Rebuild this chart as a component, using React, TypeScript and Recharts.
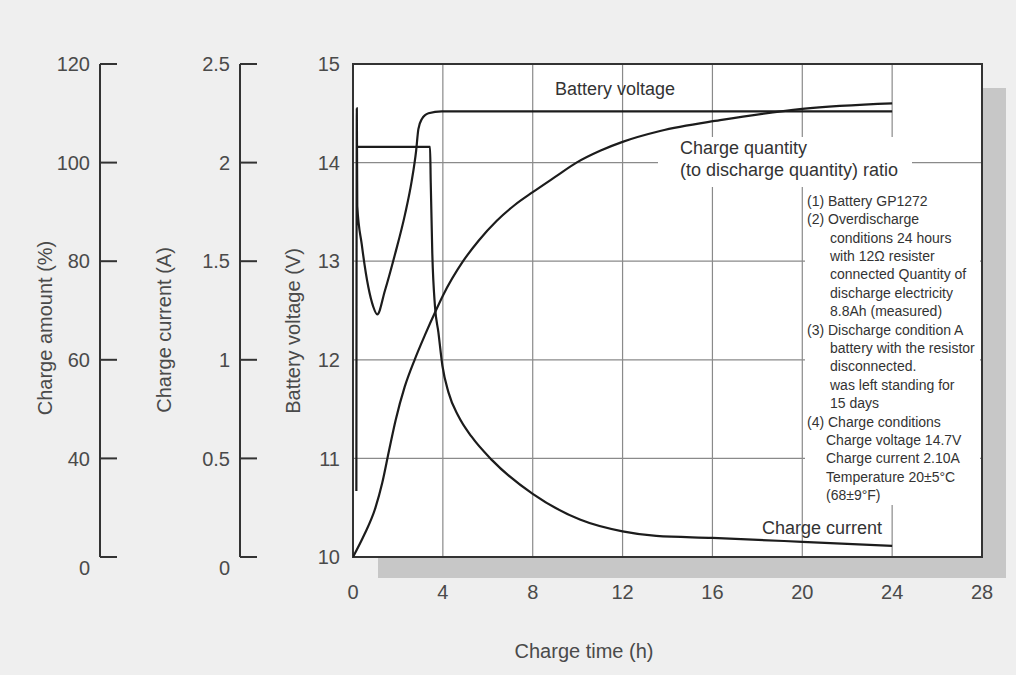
import { LineChart, Line, XAxis, YAxis, CartesianGrid, ReferenceArea } from 'recharts';

const FONT = "'Liberation Sans', Arial, sans-serif";
const INK = '#1c1c1c';
const TEXT = '#4a4a4a';

const hourTicks = [0, 4, 8, 12, 16, 20, 24, 28];
const voltTicks = [10, 11, 12, 13, 14, 15];
const currentTicks = [0, 0.5, 1, 1.5, 2, 2.5];
// the source's % scale is broken at the bottom: its "0" sits where 20 would be
const amountTicks = [20, 40, 60, 80, 100, 120];

// [hour, volts]
const voltagePts: [number, number][] = [
    [0.15, 10.67], [0.17, 14.55], [0.19, 13.56], [0.39, 13.17], [0.68, 12.74],
    [0.9, 12.54], [1.08, 12.46], [1.42, 12.7], [1.87, 13.07], [2.32, 13.48],
    [2.61, 13.81], [2.81, 14.12], [2.91, 14.34], [3.06, 14.44], [3.36, 14.5],
    [3.95, 14.52], [24, 14.52],
];

// [hour, amps]
const currentPts: [number, number][] = [
    [0.15, 2.08], [3.43, 2.08], [3.46, 1.9], [3.53, 1.54], [3.65, 1.27],
    [3.8, 1.14], [3.98, 0.97], [4.25, 0.835], [4.69, 0.715], [5.28, 0.61],
    [6.2, 0.49], [8, 0.32], [10.1, 0.19], [12, 0.13], [13.5, 0.107],
    [16, 0.097], [20, 0.077], [24, 0.056],
];

// [hour, % on the drawn scale]
const quantityPts: [number, number][] = [
    [0, 20], [0.5, 24.5], [1, 30], [1.3, 35], [1.6, 41.5], [1.9, 47.8],
    [2.3, 54.5], [2.76, 60.2], [3.2, 65], [3.7, 70.1], [4, 73], [4.9, 80],
    [5.6, 84.2], [6.4, 88.2], [7.2, 91.4], [8, 94], [9, 97.1], [9.95, 100],
    [11, 102.4], [12, 104.2], [13.67, 106.4], [16.34, 108.6], [20, 110.9], [24, 112],
];

const notes: [string, number][] = [
    ['(1) Battery GP1272', 0],
    ['(2) Overdischarge', 0],
    ['conditions 24 hours', 23],
    ['with 12Ω  resister', 23],
    ['connected Quantity of', 23],
    ['discharge electricity', 23],
    ['8.8Ah (measured)', 23],
    ['(3) Discharge condition A', 0],
    ['battery with the resistor', 23],
    ['disconnected.', 23],
    ['was left standing for', 23],
    ['15 days', 23],
    ['(4) Charge conditions', 0],
    ['Charge voltage 14.7V', 19],
    ['Charge current 2.10A', 19],
    ['Temperature 20±5°C', 19],
    ['(68±9°F)', 19],
];

const toRows = (pts: [number, number][]) => pts.map(([t, y]) => ({ t, y }));

function SideTick(props: any) {
    const { x, y, payload, fmt } = props;
    const label = fmt(payload.value);
    return (
        <g>
            <line x1={x} x2={x + 17} y1={y} y2={y} stroke="#333" strokeWidth={2} />
            <text
                x={x - 10}
                y={y + (label === '0' ? 11 : 0)}
                dy="0.36em"
                textAnchor="end"
                fontSize={20}
                fontFamily={FONT}
                fill={TEXT}
            >
                {label}
            </text>
        </g>
    );
}

function AxisTitle({ x, y, children }: { x: number; y: number; children: string }) {
    return (
        <div
            style={{
                position: 'absolute', left: x, top: y, transform: 'translate(-50%, -50%) rotate(-90deg)',
                whiteSpace: 'nowrap', fontSize: 20, color: TEXT, fontFamily: FONT,
            }}
        >
            {children}
        </div>
    );
}

// axis ids sort so that y1 sits next to the plot, y3 furthest out
const VOLT = 'y1';
const CUR = 'y2';
const AMT = 'y3';

export default function App() {
    const axisLine = { stroke: '#333', strokeWidth: 2 };
    return (
        <div style={{ position: 'absolute', left: 0, top: 0, width: 1016, height: 675, background: '#efefef', overflow: 'hidden', fontFamily: FONT }}>
            {/* drop shadow behind the plot frame */}
            <div style={{ position: 'absolute', left: 378, top: 88, width: 628, height: 490, background: '#c7c7c7' }} />

            <div style={{ position: 'absolute', left: 0, top: 0 }}>
                <LineChart width={1016} height={675} margin={{ top: 64, right: 34, bottom: 58, left: 0 }}>
                    <CartesianGrid yAxisId={VOLT} stroke="#8a8a8a" strokeWidth={1.2} fill="#fff" fillOpacity={1} />
                    <XAxis
                        dataKey="t"
                        type="number"
                        domain={[0, 28]}
                        ticks={hourTicks}
                        interval={0}
                        allowDataOverflow
                        height={60}
                        axisLine={false}
                        tickLine={false}
                        tickSize={0}
                        tickMargin={28}
                        tick={{ fontSize: 20, fill: TEXT, fontFamily: FONT }}
                    />
                    <YAxis
                        yAxisId={VOLT}
                        type="number"
                        domain={[10, 15]}
                        ticks={voltTicks}
                        interval={0}
                        width={113}
                        axisLine={false}
                        tickLine={false}
                        tickSize={0}
                        tickMargin={13}
                        tick={{ fontSize: 20, fill: TEXT, fontFamily: FONT }}
                    />
                    <YAxis
                        yAxisId={CUR}
                        type="number"
                        domain={[0, 2.5]}
                        ticks={currentTicks}
                        interval={0}
                        width={140}
                        axisLine={axisLine}
                        tickLine={false}
                        tickSize={0}
                        tickMargin={0}
                        tick={(p: any) => <SideTick {...p} fmt={(v: number) => String(v)} />}
                    />
                    <YAxis
                        yAxisId={AMT}
                        type="number"
                        domain={[20, 120]}
                        ticks={amountTicks}
                        interval={0}
                        width={100}
                        axisLine={axisLine}
                        tickLine={false}
                        tickSize={0}
                        tickMargin={0}
                        tick={(p: any) => <SideTick {...p} fmt={(v: number) => (v === 20 ? '0' : String(v))} />}
                    />
                    <ReferenceArea yAxisId={VOLT} x1={0} x2={28} y1={10} y2={15} fill="none" stroke="#333" strokeWidth={2} ifOverflow="visible" />
                    <Line yAxisId={VOLT} data={toRows(voltagePts)} dataKey="y" type="monotone" stroke={INK} strokeWidth={2.2} dot={false} activeDot={false} isAnimationActive={false} />
                    <Line yAxisId={CUR} data={toRows(currentPts)} dataKey="y" type="monotone" stroke={INK} strokeWidth={2.2} dot={false} activeDot={false} isAnimationActive={false} />
                    <Line yAxisId={AMT} data={toRows(quantityPts)} dataKey="y" type="monotone" stroke={INK} strokeWidth={2.2} dot={false} activeDot={false} isAnimationActive={false} />
                </LineChart>
            </div>

            <AxisTitle x={45} y={328}>Charge amount (%)</AxisTitle>
            <AxisTitle x={164} y={330}>Charge current (A)</AxisTitle>
            <AxisTitle x={293} y={331}>Battery voltage (V)</AxisTitle>

            <div style={{ position: 'absolute', left: 584, top: 651, transform: 'translate(-50%, -50%)', whiteSpace: 'nowrap', fontSize: 20, color: TEXT }}>
                Charge time (h)
            </div>

            <div style={{ position: 'absolute', left: 555, top: 78, fontSize: 18, lineHeight: '22px', color: '#333', whiteSpace: 'nowrap' }}>
                Battery voltage
            </div>

            <div style={{ position: 'absolute', left: 658, top: 137, width: 254, height: 50, background: '#fff' }}>
                <div style={{ position: 'absolute', left: 22, top: 0, fontSize: 18, lineHeight: '22px', color: '#333', whiteSpace: 'nowrap' }}>
                    Charge quantity
                    <br />
                    (to discharge quantity) ratio
                </div>
            </div>

            <div style={{ position: 'absolute', left: 805, top: 187, width: 175, height: 318, background: '#fff' }}>
                <div style={{ position: 'absolute', left: 2, top: 4.8, fontSize: 14, lineHeight: '18.4px', color: '#333', whiteSpace: 'nowrap' }}>
                    {notes.map(([text, indent]) => (
                        <div key={text} style={{ paddingLeft: indent }}>{text}</div>
                    ))}
                </div>
            </div>

            <div style={{ position: 'absolute', left: 762, top: 517, fontSize: 18, lineHeight: '22px', color: '#333', whiteSpace: 'nowrap' }}>
                Charge current
            </div>
        </div>
    );
}
